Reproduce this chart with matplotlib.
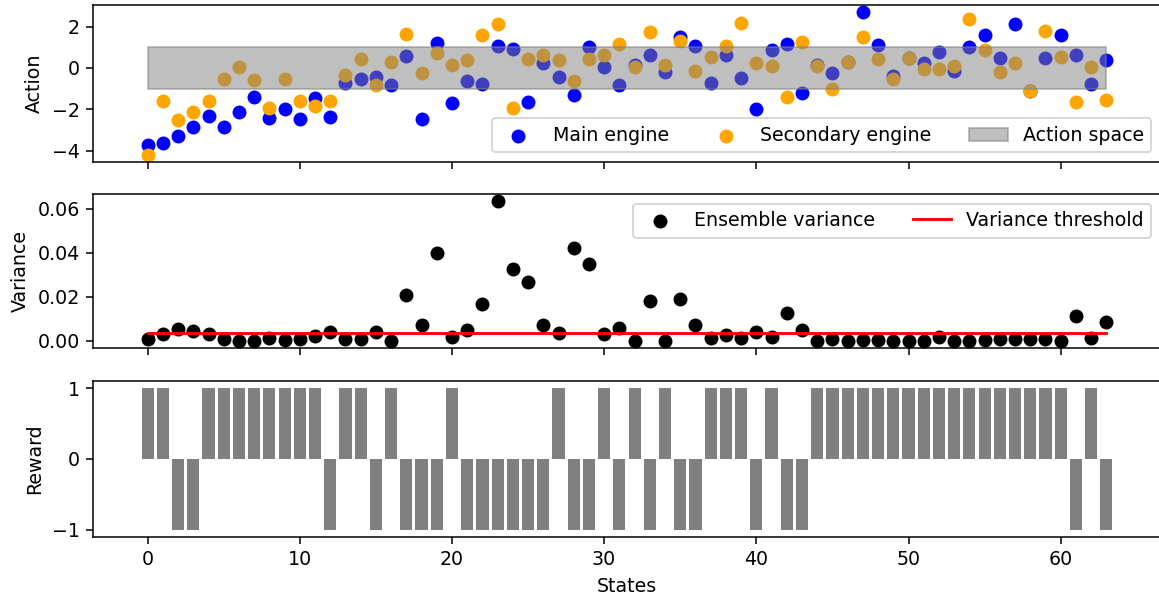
import numpy as np
import matplotlib
matplotlib.use("Agg")
import matplotlib.pyplot as plt

states = np.arange(64)

main_engine = [-3.71, -3.63, -3.32, -2.86, -2.34, -2.86, -2.15, -1.40, -2.42, -2.00,
               -2.46, -1.45, -2.37, -0.75, -0.54, -0.46, -0.85, 0.57, -2.46, 1.20,
               -1.72, -0.62, -0.78, 1.04, 0.91, -1.64, 0.23, -0.46, -1.32, 1.01,
               0.02, -0.83, 0.15, 0.63, -0.18, 1.48, 1.04, -0.72, 0.63, -0.50,
               -1.98, 0.88, 1.17, -1.20, 0.15, -0.23, 0.31, 2.70, 1.12, -0.39,
               0.47, 0.26, 0.76, -0.15, 1.01, 1.57, 0.47, 2.13, -1.11, 0.47,
               1.57, 0.63, -0.78, 0.36]
secondary_engine = [-4.21, -1.58, -2.50, -2.13, -1.58, -0.54, 0.02, -0.59, -1.93, -0.54,
                    -1.58, -1.85, -1.58, -0.36, 0.42, -0.83, 0.29, 1.66, -0.23, 0.72,
                    0.15, 0.36, 1.59, 2.13, -1.92, 0.42, 0.63, 0.36, -0.62, 0.42,
                    0.63, 1.17, 0.03, 1.72, 0.15, 1.32, -0.15, 0.55, 1.04, 2.18,
                    0.23, 0.10, -1.40, 1.26, 0.10, -1.04, 0.31, 1.50, 0.42, -0.54,
                    0.47, -0.07, -0.07, 0.10, 2.37, 0.85, -0.18, 0.23, -1.11, 1.77,
                    0.55, -1.67, 0.02, -1.53]

variance = [0.0007, 0.0032, 0.0056, 0.0047, 0.0032, 0.0007, 0.0, 0.0002, 0.0014, 0.0004,
            0.0007, 0.0022, 0.0041, 0.0010, 0.0010, 0.0041, 0.0002, 0.0208, 0.0074, 0.0398,
            0.0019, 0.0051, 0.0166, 0.0634, 0.0325, 0.0268, 0.0071, 0.0034, 0.0423, 0.0348,
            0.0032, 0.0059, 0.0, 0.0183, 0.0, 0.0189, 0.0074, 0.0014, 0.0029, 0.0014,
            0.0041, 0.0020, 0.0129, 0.0048, 0.0, 0.0011, 0.0, 0.0004, 0.0005, 0.0,
            0.0, 0.0, 0.0017, 0.0, 0.0, 0.0005, 0.0011, 0.0008, 0.0008, 0.0008,
            0.0002, 0.0114, 0.0013, 0.0086]
threshold = 0.0037

reward = [1, 1, -1, -1, 1, 1, 1, 1, 1, 1, 1, 1, -1, 1, 1, -1, 1, -1, -1, -1,
          1, -1, -1, -1, -1, -1, -1, 1, -1, -1, 1, -1, 1, -1, 1, -1, -1, 1, 1, 1,
          -1, 1, -1, -1, 1, 1, 1, 1, 1, 1, 1, 1, 1, 1, 1, 1, 1, 1, 1, 1,
          1, -1, 1, -1]

W, H = 1159, 597
dpi = 137
fig = plt.figure(figsize=(W / dpi, H / dpi), dpi=dpi)

# axes run a little past the right edge, as in the cropped original
def box(top, bottom):
    return [93 / W, 1 - bottom / H, (1161 - 93) / W, (bottom - top) / H]

ax1 = fig.add_axes(box(5, 162))
ax2 = fig.add_axes(box(194, 348), sharex=ax1)
ax3 = fig.add_axes(box(381, 537), sharex=ax1)

ax1.scatter(states, main_engine, color="blue", s=40, label="Main engine")
ax1.scatter(states, secondary_engine, color="orange", s=40, label="Secondary engine")
ax1.fill_between(states, -1, 1, color="gray", alpha=0.5, label="Action space")
ax1.set_ylabel("Action")
ax1.legend(loc="lower right", ncol=3)
ax1.tick_params(labelbottom=False)

ax2.scatter(states, variance, color="black", s=40, label="Ensemble variance")
ax2.plot(states, [threshold] * len(states), color="red", label="Variance threshold")
ax2.set_ylabel("Variance")
ax2.legend(loc="upper right", ncol=2)
ax2.tick_params(labelbottom=False)

ax3.bar(states, reward, color="gray")
ax3.set_ylabel("Reward")
ax3.set_xlabel("States")

fig.savefig("out.png", dpi=dpi)
